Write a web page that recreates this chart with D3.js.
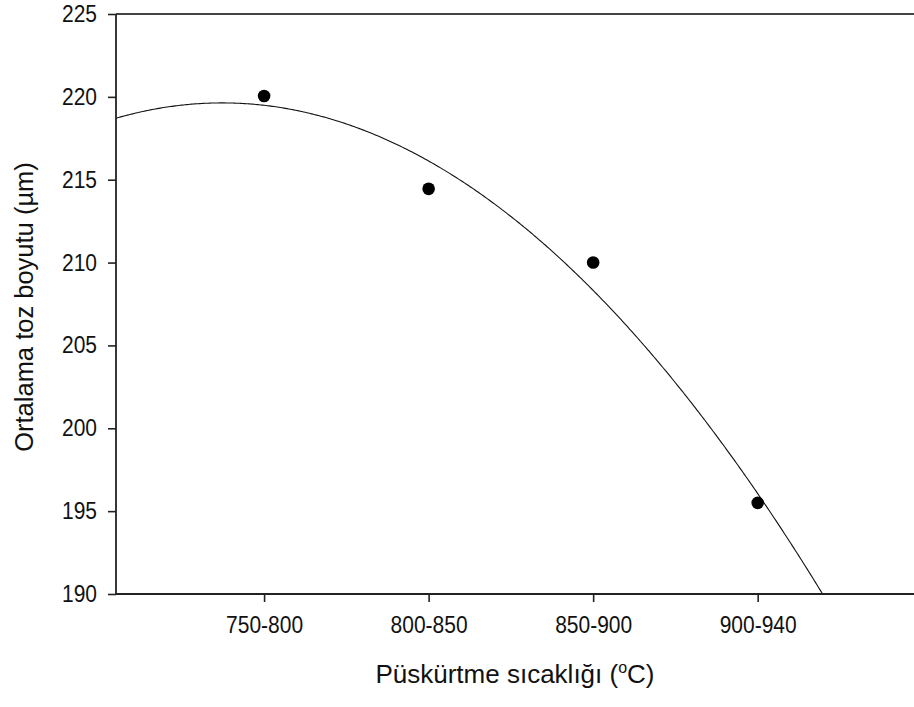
<!DOCTYPE html>
<html>
<head>
<meta charset="utf-8">
<script src="https://cdn.jsdelivr.net/npm/d3@7"></script>
<style>
  html, body { margin: 0; padding: 0; background: #fff; }
  svg { display: block; font-family: Arial, "Liberation Sans", sans-serif; }
  .tick text { transform-box: fill-box; transform-origin: center; transform: scale(1, 1.1); }
</style>
</head>
<body>
<svg id="chart" width="914" height="707"></svg>
<script>
// Spray temperature ranges and mean powder size (µm)
const categories = ["750-800", "800-850", "850-900", "900-940"];
const positions = [1, 2, 3, 4];
const meanSize = [220.05, 214.45, 210.0, 195.5];
const yTicks = [190, 195, 200, 205, 210, 215, 220, 225];

const svg = d3.select("#chart");
const plotLeft = 116, plotRight = 914, plotTop = 14, plotBottom = 594;

const x = d3.scaleLinear().domain([0.1, 4.95]).range([plotLeft, plotRight]);
const y = d3.scaleLinear().domain([190, 225]).range([plotBottom, plotTop]);

// Second-order least-squares fit through the measured points
function quadFit(xs, ys) {
  const s = [0, 0, 0, 0, 0], t = [0, 0, 0];
  xs.forEach((xi, i) => {
    for (let k = 0; k < 5; k++) s[k] += Math.pow(xi, k);
    for (let k = 0; k < 3; k++) t[k] += ys[i] * Math.pow(xi, k);
  });
  const A = [[s[0], s[1], s[2], t[0]], [s[1], s[2], s[3], t[1]], [s[2], s[3], s[4], t[2]]];
  for (let i = 0; i < 3; i++) {
    for (let j = i + 1; j < 3; j++) {
      const f = A[j][i] / A[i][i];
      for (let k = i; k < 4; k++) A[j][k] -= f * A[i][k];
    }
  }
  const c = [0, 0, 0];
  for (let i = 2; i >= 0; i--) {
    let v = A[i][3];
    for (let k = i + 1; k < 3; k++) v -= A[i][k] * c[k];
    c[i] = v / A[i][i];
  }
  return xv => c[0] + c[1] * xv + c[2] * xv * xv;
}
const fit = quadFit(positions, meanSize);
const fitPts = d3.range(0.1, 4.95, 0.01).map(v => [v, fit(v)]);

svg.append("clipPath").attr("id", "plotClip")
  .append("rect").attr("x", plotLeft).attr("y", plotTop)
  .attr("width", plotRight - plotLeft).attr("height", plotBottom - plotTop);

svg.append("path")
  .datum(fitPts)
  .attr("clip-path", "url(#plotClip)")
  .attr("fill", "none")
  .attr("stroke", "#111")
  .attr("stroke-width", 1.1)
  .attr("d", d3.line().x(d => x(d[0])).y(d => y(d[1])));

// Points
svg.append("g").selectAll("circle")
  .data(positions.map((p, i) => ({ p, v: meanSize[i] })))
  .join("circle")
  .attr("cx", d => x(d.p))
  .attr("cy", d => y(d.v))
  .attr("r", 6.3)
  .attr("fill", "#000");

// Frame top line
svg.append("line")
  .attr("x1", plotLeft).attr("x2", plotRight).attr("y1", plotTop).attr("y2", plotTop)
  .attr("stroke", "#444").attr("stroke-width", 2);

// Axes
const yAxis = d3.axisLeft(y).tickValues(yTicks).tickSize(8).tickPadding(11);
const gy = svg.append("g").attr("transform", `translate(${plotLeft},0)`).call(yAxis);

const xAxis = d3.axisBottom(x).tickValues(positions)
  .tickFormat((d, i) => categories[i]).tickSize(8).tickPadding(15);
const gx = svg.append("g").attr("transform", `translate(0,${plotBottom})`).call(xAxis);

[gx, gy].forEach(g => {
  g.select(".domain").attr("stroke", "#222").attr("stroke-width", 1.8);
  g.selectAll(".tick line").attr("stroke", "#222").attr("stroke-width", 1.6);
  g.selectAll(".tick text").attr("fill", "#111").style("font-size", "21px")
    .style("font-family", "Arial, 'Liberation Sans', sans-serif");
});
gx.select(".domain").attr("d", `M${plotLeft},0H${plotRight}`);
gy.select(".domain").attr("d", `M0,${plotBottom}V${plotTop}`);

// Axis titles
const xt = svg.append("text")
  .attr("x", (plotLeft + plotRight) / 2).attr("y", 683)
  .attr("text-anchor", "middle")
  .attr("fill", "#111")
  .style("font-size", "26px");
xt.append("tspan").text("Püskürtme sıcaklığı (");
xt.append("tspan").attr("dy", -10).style("font-size", "16px").text("o");
xt.append("tspan").attr("dy", 10).text("C)");

svg.append("text")
  .attr("transform", `translate(33,307) rotate(-90)`)
  .attr("text-anchor", "middle")
  .attr("fill", "#111")
  .style("font-size", "25.5px")
  .text("Ortalama toz boyutu (µm)");
</script>
</body>
</html>
